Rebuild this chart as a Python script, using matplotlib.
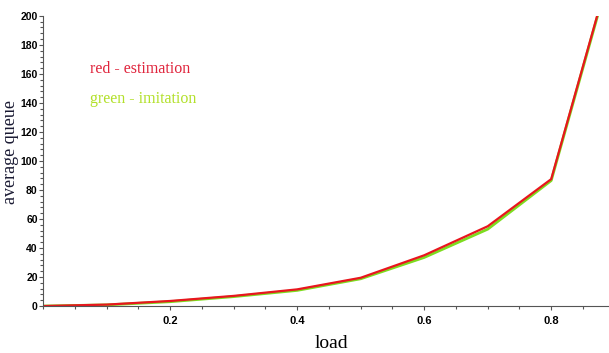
import matplotlib
matplotlib.use("Agg")
import matplotlib.pyplot as plt
from matplotlib.ticker import MultipleLocator

# load vs average queue
load = [0.0, 0.1, 0.2, 0.3, 0.4, 0.5, 0.6, 0.7, 0.8, 0.9]
estimation = [0.0, 1.0, 3.5, 7.0, 11.5, 19.5, 35.0, 55.0, 87.5, 243.0]
imitation = [0.0, 0.8, 3.0, 6.5, 10.8, 18.8, 33.5, 53.0, 86.5, 242.0]

fig = plt.figure(figsize=(6.09, 3.53), dpi=100)
ax = fig.add_axes([0.071, 0.133, 0.929, 0.822])

ax.plot(load, imitation, color="#7ddc1f", lw=2.0)
ax.plot(load, estimation, color="#e8161e", lw=1.6)

ax.set_xlim(0, 0.891)
ax.set_ylim(0, 200)

for s in ["top", "right"]:
    ax.spines[s].set_visible(False)
ax.spines["left"].set_color("#555555")
ax.spines["bottom"].set_color("#555555")

ax.xaxis.set_major_locator(MultipleLocator(0.2))
ax.xaxis.set_minor_locator(MultipleLocator(0.05))
ax.yaxis.set_major_locator(MultipleLocator(20))
ax.yaxis.set_minor_locator(MultipleLocator(4))
ax.tick_params(which="both", direction="out", color="#555555", width=0.8)
ax.tick_params(which="major", length=3)
ax.tick_params(which="minor", length=2)

tick_font = ["Liberation Sans Narrow", "Liberation Sans"]
ax.set_xticks([0.2, 0.4, 0.6, 0.8])
ax.set_xticklabels(["0.2", "0.4", "0.6", "0.8"], family=tick_font,
                   fontweight="bold", fontsize=8)
yt = list(range(0, 201, 20))
ax.set_yticks(yt)
ax.set_yticklabels([str(v) for v in yt], family=tick_font,
                   fontweight="bold", fontsize=7.5)
ax.tick_params(axis="x", pad=4)
ax.tick_params(axis="y", pad=1)

fig.text(0.545, 0.004, "load", family="Liberation Serif", fontsize=14,
         ha="center", va="bottom")
fig.text(0.018, 0.57, "average queue", family="Liberation Serif", fontsize=13,
         color="#1a1a33", rotation=90, ha="center", va="center")

ax.text(0.083, 0.803, "red - estimation", transform=ax.transAxes,
        family="Liberation Serif", fontsize=11.5, color="#e0243c")
ax.text(0.083, 0.70, "green - imitation", transform=ax.transAxes,
        family="Liberation Serif", fontsize=11.5, color="#b2e02a")

fig.savefig("out.png", dpi=100)
